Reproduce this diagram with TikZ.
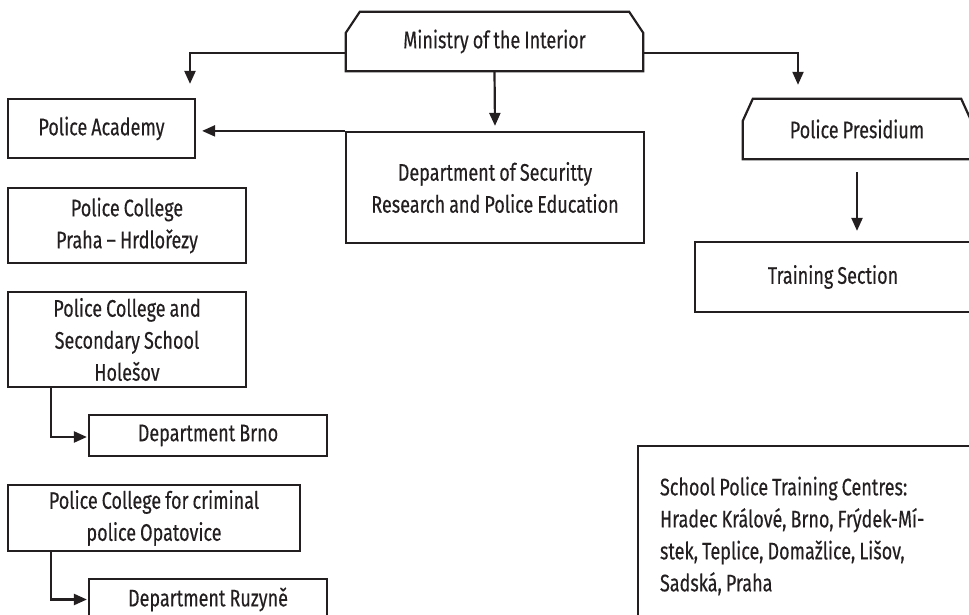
\documentclass[tikz,border=0pt]{standalone}
\usepackage{fontspec}
\setmainfont{Fira Sans}[FakeStretch=0.75,WordSpace=0.85,FakeBold=0.3]
\usetikzlibrary{arrows.meta,calc}
\definecolor{ink}{HTML}{231F20}
\begin{document}
\begin{tikzpicture}[x=1pt,y=-1pt,
  every node/.style={text=ink,font=\fontsize{24}{32}\selectfont},
  box/.style={draw=ink,line width=2.2pt,inner sep=0pt,align=center},
  plainbox/.style={draw=none,inner sep=0pt,align=center},
  edge/.style={draw=ink,line width=2.2pt},
  arr/.style={edge,-{Triangle[length=13pt,width=11pt]}}]
\useasboundingbox (0,0) rectangle (969,615);
\begin{scope}
\clip (0,0) rectangle (969,615);
% chamfered boxes
\node[plainbox,minimum width=297pt,minimum height=59pt] (min) at (494.5,41.5) {Ministry of the Interior};
\draw[edge,line join=miter] ($(min.north west)+(14,0)$) -- ($(min.north east)+(-14,0)$) -- ($(min.north east)+(0,21)$) -- (min.south east) -- (min.south west) -- ($(min.north west)+(0,21)$) -- cycle;
\node[plainbox,minimum width=228pt,minimum height=60pt] (pres) at (857,129) {Police Presidium};
\draw[edge,line join=miter] ($(pres.north west)+(10,0)$) -- ($(pres.north east)+(-10,0)$) -- ($(pres.north east)+(0,22)$) -- (pres.south east) -- (pres.south west) -- ($(pres.north west)+(0,22)$) -- cycle;
% rectangles
\node[box,minimum width=187pt,minimum height=59pt] (acad) at (101.5,128.5) {Police Academy};
\node[box,minimum width=298pt,minimum height=111pt] (dsr) at (495,187.5) {Department of Securitty\\Research and Police Education};
\node[box,minimum width=238pt,minimum height=75pt] (praha) at (127,225.5) {Police College\\Praha -- Hrdlořezy};
\node[box,minimum width=238pt,minimum height=95pt] (holesov) at (127,339.5) {Police College and\\Secondary School\\Holešov};
\node[box,minimum width=238pt,minimum height=41pt] (brno) at (208,435.5) {Department Brno};
\node[box,minimum width=292pt,minimum height=66pt] (opat) at (154,518) {Police College for criminal\\police Opatovice};
\node[box,minimum width=238pt,minimum height=41pt] (ruz) at (208,599.5) {Department Ruzyně};
\node[box,minimum width=276pt,minimum height=70pt] (train) at (833,277) {Training Section};
\node[box,minimum width=342pt,minimum height=180pt,text width=298pt,inner xsep=22pt,align=flush left] (school) at (809,536) {School Police Training Centres:\\Hradec Králové, Brno, Frýdek-Mí-\\stek, Teplice, Domažlice, Lišov,\\Sadská, Praha};
% connectors
\draw[arr] ([yshift=-11.5pt]min.west) -| ([xshift=88.5pt,yshift=14pt]acad.north);
\draw[arr] (min.south) -- ([yshift=5pt]dsr.north);
\draw[arr] (dsr.north west) -- ([xshift=6pt]acad.east |- dsr.north west);
\draw[arr] ([yshift=-11.5pt]min.east) -| ([xshift=-59pt,yshift=14pt]pres.north);
\draw[arr] ([yshift=-13pt]pres.south) -- ([yshift=10pt]train.north -| pres.south);
\draw[arr] ([xshift=-76pt]holesov.south) |- ([xshift=-1pt,yshift=-1.5pt]brno.west);
\draw[arr] ([xshift=-103pt]opat.south) |- ([xshift=-1pt]ruz.west);
\end{scope}
\end{tikzpicture}
\end{document}
